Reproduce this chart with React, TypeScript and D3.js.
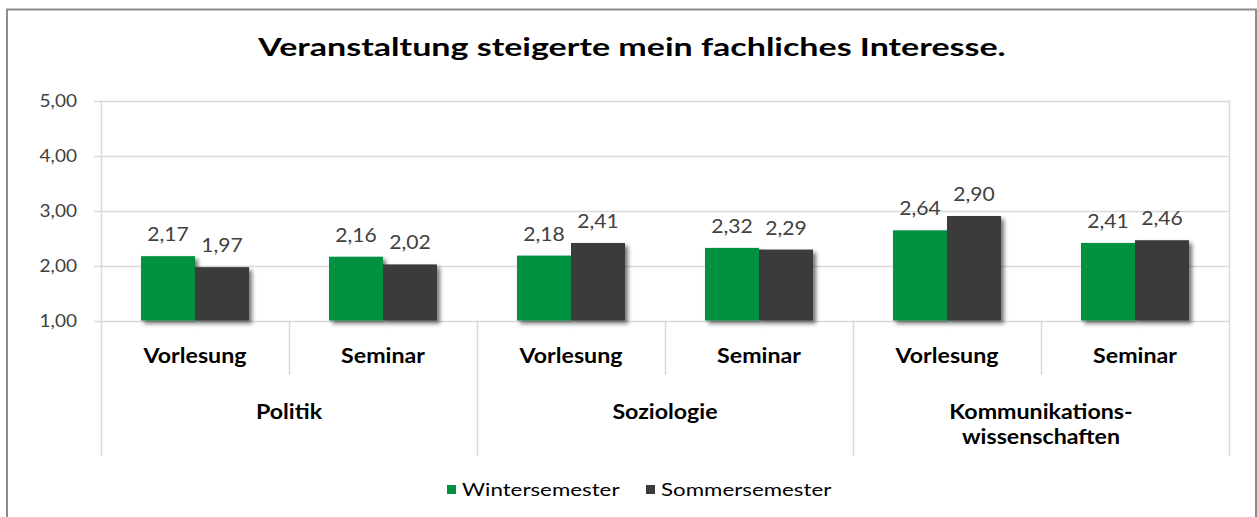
import React from "react";
import * as d3 from "d3";

const groups = ["Politik", "Soziologie", "Kommunikations-\nwissenschaften"];
const subCategories = ["Vorlesung", "Seminar"];
const seriesNames = ["Wintersemester", "Sommersemester"];
const winterValues = [2.17, 2.16, 2.18, 2.32, 2.64, 2.41];
const summerValues = [1.97, 2.02, 2.41, 2.29, 2.9, 2.46];
const yTicks = [1, 2, 3, 4, 5];
const title = "Veranstaltung steigerte mein fachliches Interesse.";

const colors = ["#00923F", "#3B3B3B"];
const FONT = "Lato, 'Open Sans', sans-serif";

type STProps = {
  x: number;
  y: number;
  sx: number;
  anchor?: "start" | "middle" | "end";
  size: number;
  weight?: number;
  fill?: string;
  dy?: string;
  children: React.ReactNode;
};

function SText({ x, y, sx, anchor = "start", size, weight = 400, fill = "#000", dy, children }: STProps) {
  return (
    <text
      transform={`translate(${x},${y}) scale(${sx},1)`}
      textAnchor={anchor}
      dy={dy}
      fontFamily={FONT}
      fontSize={size}
      fontWeight={weight}
      fill={fill}
    >
      {children}
    </text>
  );
}

export default function App() {
  const W = 1257, H = 517;
  const left = 101, right = 1229, top = 100.5, bottom = 320.5;

  const cats = groups.flatMap((g, gi) => subCategories.map((s, si) => `${gi}-${si}`));
  const x = d3.scaleBand<string>().domain(cats).range([left, right]).padding(0);
  const inner = d3
    .scaleBand<string>()
    .domain(seriesNames)
    .range([0, x.bandwidth()])
    .paddingInner(0)
    .paddingOuter(0.7407);
  const y = d3.scaleLinear().domain([1, 5]).range([bottom, top]);
  const fmt = (v: number) => v.toFixed(2).replace(".", ",");
  const seriesValues = [winterValues, summerValues];

  const groupWidth = x.step() * subCategories.length;

  return (
    <svg width={W} height={H} style={{ position: "absolute", left: 0, top: 0 }}>
      <defs>
        <filter id="shadow" x="-20%" y="-20%" width="150%" height="150%">
          <feDropShadow dx="3" dy="3" stdDeviation="2" floodColor="#000" floodOpacity="0.55" />
        </filter>
      </defs>
      <rect x={0} y={0} width={W} height={H} fill="#fff" />
      {/* outer border */}
      <path d={`M7,${H} V9.5 H1256 V${H}`} fill="none" stroke="#8C8C8C" strokeWidth={2} />

      <SText x={632} y={56} sx={1.36} anchor="middle" size={25} weight={700}>
        {title}
      </SText>

      {/* gridlines */}
      {yTicks.map((t) => (
        <g key={t}>
          <line x1={94} x2={right} y1={Math.round(y(t)) + 0.5} y2={Math.round(y(t)) + 0.5} stroke="#D9D9D9" strokeWidth={1.5} />
          <SText x={77} y={y(t)} dy="0.36em" sx={1.12} anchor="end" size={17} fill="#404040">
            {fmt(t)}
          </SText>
        </g>
      ))}
      <line x1={left + 0.5} x2={left + 0.5} y1={top} y2={bottom} stroke="#D9D9D9" strokeWidth={1.5} />

      {/* category separators */}
      {cats.map((c, i) => {
        const isGroupEdge = i % subCategories.length === 0;
        const xx = (x(c) as number) + 0.5;
        return (
          <line key={c} x1={xx} x2={xx} y1={bottom} y2={isGroupEdge ? 456 : 375} stroke="#D9D9D9" strokeWidth={1.5} />
        );
      })}
      <line x1={right + 0.5} x2={right + 0.5} y1={top} y2={456} stroke="#D9D9D9" strokeWidth={1.5} />

      {/* bars */}
      {seriesNames.map((s, si) =>
        cats.map((c, ci) => {
          const v = seriesValues[si][ci];
          const bx = (x(c) as number) + (inner(s) as number);
          return (
            <rect
              key={s + c}
              x={bx}
              y={y(v)}
              width={inner.bandwidth()}
              height={bottom - y(v)}
              fill={colors[si]}
              filter="url(#shadow)"
            />
          );
        })
      )}

      {/* data labels */}
      {seriesNames.map((s, si) =>
        cats.map((c, ci) => {
          const v = seriesValues[si][ci];
          const bx = (x(c) as number) + (inner(s) as number) + inner.bandwidth() / 2;
          return (
            <SText key={"l" + s + c} x={bx} y={y(v) - 15} sx={1.11} anchor="middle" size={19} fill="#404040">
              {fmt(v)}
            </SText>
          );
        })
      )}

      {/* subcategory labels */}
      {cats.map((c, ci) => (
        <SText
          key={"s" + c}
          x={(x(c) as number) + x.bandwidth() / 2}
          y={356}
          dy="0.36em"
          sx={1.16}
          anchor="middle"
          size={20}
          weight={700}
        >
          {subCategories[ci % subCategories.length]}
        </SText>
      ))}

      {/* group labels */}
      {groups.map((g, gi) => {
        const gx = left + groupWidth * gi + groupWidth / 2;
        const lines = g.split("\n");
        return lines.map((ln, li) => (
          <SText key={g + li} x={gx} y={412 + li * 25} dy="0.36em" sx={1.16} anchor="middle" size={20} weight={700}>
            {ln}
          </SText>
        ));
      })}

      {/* legend */}
      <g>
        <rect x={447} y={485} width={9} height={9} fill={colors[0]} />
        <SText x={462} y={489.5} dy="0.36em" sx={1.24} size={18}>
          {seriesNames[0]}
        </SText>
        <rect x={646} y={485} width={9} height={9} fill={colors[1]} />
        <SText x={661} y={489.5} dy="0.36em" sx={1.24} size={18}>
          {seriesNames[1]}
        </SText>
      </g>
    </svg>
  );
}
